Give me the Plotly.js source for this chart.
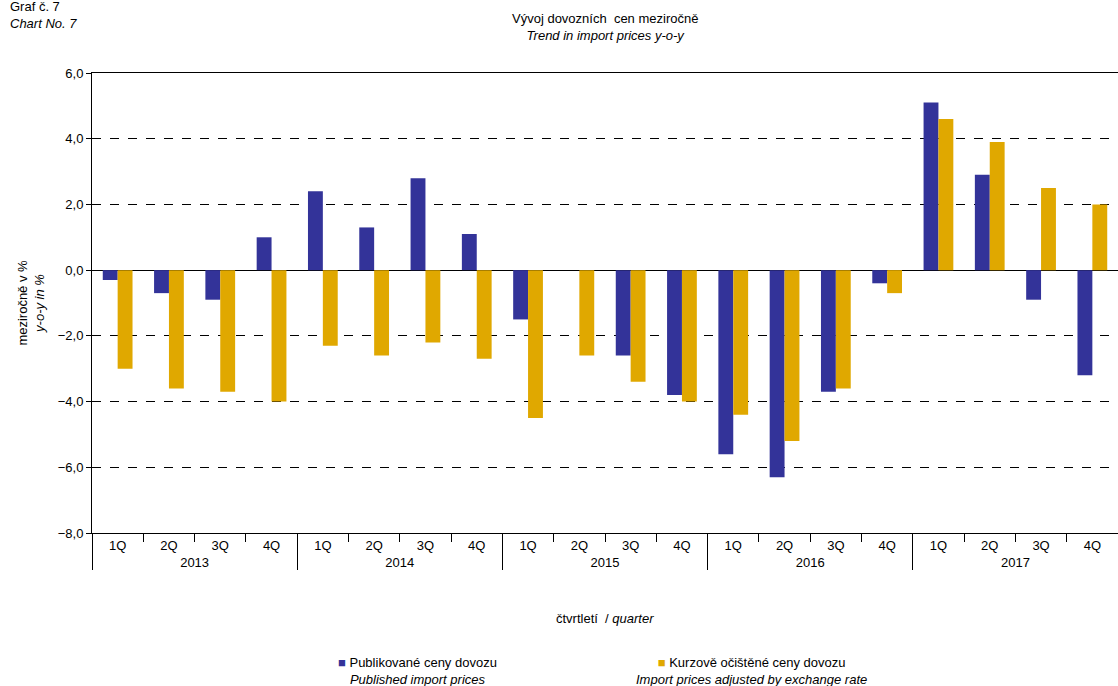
<!DOCTYPE html>
<html><head><meta charset="utf-8">
<script src="https://cdn.plot.ly/plotly-3.0.1.min.js"></script>
<style>body{margin:0}#plot{width:1118px;height:686px}</style>
</head><body><div id="plot"></div>
<script>
const years = ['2013','2014','2015','2016','2017'];
const quarters = ['1Q','2Q','3Q','4Q'];
const published = [-0.3,-0.7,-0.9,1.0, 2.4,1.3,2.8,1.1, -1.5,0,-2.6,-3.8, -5.6,-6.3,-3.7,-0.4, 5.1,2.9,-0.9,-3.2];
const adjusted = [-3.0,-3.6,-3.7,-4.0, -2.3,-2.6,-2.2,-2.7, -4.5,-2.6,-3.4,-4.0, -4.4,-5.2,-3.6,-0.7, 4.6,3.9,2.5,2.0];

const xYear = [], xQ = [];
years.forEach(y => quarters.forEach(q => { xYear.push(y); xQ.push(q); }));
const font = {family: 'Liberation Sans, Arial, sans-serif', size: 13, color: '#000'};

const data = [
  {type: 'bar', x: [xYear, xQ], y: published, name: 'Publikované ceny dovozu', marker: {color: '#333399'}},
  {type: 'bar', x: [xYear, xQ], y: adjusted, name: 'Kurzově očištěné ceny dovozu', marker: {color: '#E0A800'}}
];
const layout = {
  font, barmode: 'group', bargap: 0.42, bargroupgap: 0,
  paper_bgcolor: '#fff', plot_bgcolor: '#fff', showlegend: false,
  margin: {l: 92, r: 0, t: 73, b: 153},
  xaxis: {type: 'multicategory', showline: true, linecolor: '#000', mirror: true, ticks: 'outside', ticklen: 8, tickcolor: '#000', dividercolor: '#000', dividerwidth: 1, showgrid: false},
  yaxis: {range: [-8, 6], dtick: 2, tickformat: '.1f', showline: true, linecolor: '#000', mirror: true,
    gridcolor: '#000', griddash: 'dash', gridwidth: 1, zeroline: true, zerolinecolor: '#000', zerolinewidth: 1, ticks: 'outside', tickcolor: '#000',
    title: {text: 'meziročně v %<br><i>y-o-y in %</i>', font, standoff: 10}},
  separators: ',.',
  annotations: [
    {xref: 'paper', yref: 'paper', x: -0.082, y: 1.165, xanchor: 'left', yanchor: 'top', showarrow: false, align: 'left', text: 'Graf č. 7<br><i>Chart No. 7</i>', font},
    {xref: 'paper', yref: 'paper', x: 0.5, y: 1.14, xanchor: 'center', yanchor: 'top', showarrow: false, text: 'Vývoj dovozních  cen meziročně<br><i>Trend in import prices y-o-y</i>', font},
    {xref: 'paper', yref: 'paper', x: 0.5, y: -0.165, xanchor: 'center', yanchor: 'top', showarrow: false, text: 'čtvrtletí  / <i>quarter</i>', font},
    {xref: 'paper', yref: 'paper', x: 0.238, y: -0.26, xanchor: 'left', yanchor: 'top', showarrow: false, align: 'center', text: '<span style="color:#333399">■</span> Publikované ceny dovozu<br><i>Published import prices</i>', font},
    {xref: 'paper', yref: 'paper', x: 0.528, y: -0.26, xanchor: 'left', yanchor: 'top', showarrow: false, align: 'center', text: '<span style="color:#E0A800">■</span> Kurzově očištěné ceny dovozu<br><i>Import prices adjusted by exchange rate</i>', font}
  ]
};
Plotly.newPlot('plot', data, layout, {displayModeBar: false});
</script></body></html>
